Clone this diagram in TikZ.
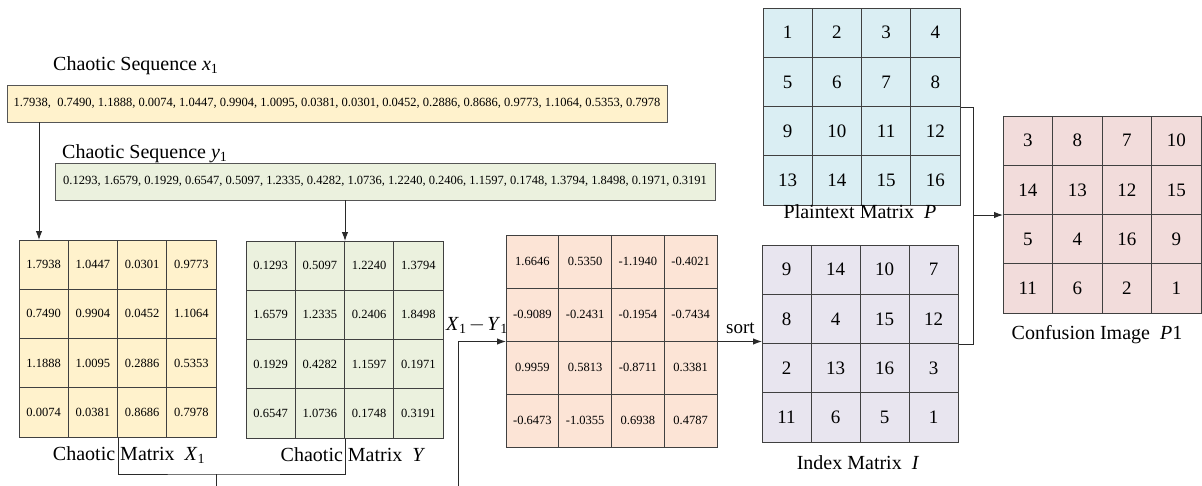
\documentclass[tikz,border=0pt]{standalone}
\usepackage{fontspec}
\setmainfont{Liberation Serif}
\usetikzlibrary{arrows.meta,calc}
\definecolor{cyel}{HTML}{FFF2CC}
\definecolor{cgrn}{HTML}{EBF1DE}
\definecolor{corg}{HTML}{FCE4D6}
\definecolor{cblu}{HTML}{DAEEF3}
\definecolor{clav}{HTML}{E8E5EF}
\definecolor{cpnk}{HTML}{F2DCDB}
\definecolor{bc}{HTML}{404040}
\definecolor{sbc}{HTML}{555555}
\definecolor{lc}{HTML}{2A2A2A}
\newcommand\lblfont{\fontsize{20}{24}\selectfont}
\newcommand\numfont{\fontsize{12.5}{15}\selectfont}
\newcommand\intfont{\fontsize{19}{22}\selectfont}
\newcommand\drawmat[8]{%
  \node[mat, fill=#6, minimum width={4*#4pt}, minimum height={4*#5pt}, anchor=north west] (#1) at (#2,#3) {};
  \foreach \e [count=\k from 0] in {#8}{
    \pgfmathtruncatemacro\rr{floor(\k/4)}
    \pgfmathtruncatemacro\cc{mod(\k,4)}
    \node[font=#7, inner sep=0pt] (#1-\k) at ({#2+(\cc+0.5)*#4},{#3+(\rr+0.5)*#5}) {\e};
  }
  \foreach \i in {1,2,3}{
    \draw[gridline] ({#2+\i*#4},#3) -- ({#2+\i*#4},{#3+4*#5});
    \draw[gridline] (#2,{#3+\i*#5}) -- ({#2+4*#4},{#3+\i*#5});
  }
}
\tikzset{
  mat/.style={draw=bc, line width=1pt, inner sep=0pt},
  gridline/.style={draw=bc, line width=0.9pt},
  seqbox/.style={draw=sbc, line width=0.9pt, minimum width=660pt, minimum height=37pt, inner sep=0pt, font=\numfont},
  lbl/.style={font=\lblfont, inner sep=0pt},
  conn/.style={draw=lc, line width=1pt},
  arr/.style={conn, -{Latex[length=9pt,width=6.5pt]}},
}
\begin{document}
\begin{tikzpicture}[x=1pt,y=-1pt]
\useasboundingbox (0,0) rectangle (1202,485);

% sequences
\node[lbl, anchor=base west] (lx) at (53,70) {Chaotic Sequence \textit{x}\textsubscript{1}};
\node[seqbox, fill=cyel] (seqx) at (337,103.5) {1.7938,\ \ 0.7490, 1.1888, 0.0074, 1.0447, 0.9904, 1.0095, 0.0381, 0.0301, 0.0452, 0.2886, 0.8686, 0.9773, 1.1064, 0.5353, 0.7978};
\node[lbl, anchor=base west] (ly) at (62,158) {Chaotic Sequence \textit{y}\textsubscript{1}};
\node[seqbox, fill=cgrn] (seqy) at (385,181.5) {0.1293, 1.6579, 0.1929, 0.6547, 0.5097, 1.2335, 0.4282, 1.0736, 1.2240, 0.2406, 1.1597, 0.1748, 1.3794, 1.8498, 0.1971, 0.3191};

% matrices
\drawmat{X1}{19}{240}{49.25}{49.25}{cyel}{\numfont}{1.7938,1.0447,0.0301,0.9773,0.7490,0.9904,0.0452,1.1064,1.1888,1.0095,0.2886,0.5353,0.0074,0.0381,0.8686,0.7978}
\drawmat{Y}{246}{241}{49.25}{49.25}{cgrn}{\numfont}{0.1293,0.5097,1.2240,1.3794,1.6579,1.2335,0.2406,1.8498,0.1929,0.4282,1.1597,0.1971,0.6547,1.0736,0.1748,0.3191}
\drawmat{D}{506}{235}{52.75}{53}{corg}{\numfont}{1.6646,0.5350,-1.1940,-0.4021,-0.9089,-0.2431,-0.1954,-0.7434,0.9959,0.5813,-0.8711,0.3381,-0.6473,-1.0355,0.6938,0.4787}
\drawmat{P}{763}{8}{49.25}{49.25}{cblu}{\intfont}{1,2,3,4,5,6,7,8,9,10,11,12,13,14,15,16}
\drawmat{I}{762}{245}{49}{49.25}{clav}{\intfont}{9,14,10,7,8,4,15,12,2,13,16,3,11,6,5,1}
\drawmat{C}{1003}{116}{49.5}{49.25}{cpnk}{\intfont}{3,8,7,10,14,13,12,15,5,4,16,9,11,6,2,1}

% labels
\node[lbl] (lX1) at (129,455) {Chaotic Matrix\ \ \textit{X}\textsubscript{1}};
\node[lbl] (lY) at (353,455) {Chaotic Matrix\ \ \textit{Y}};
\node[lbl] (lP) at (860,212) {Plaintext Matrix\ \ \textit{P}};
\node[lbl] (lI) at (858,463) {Index Matrix\ \ \textit{I}};
\node[lbl] (lC) at (1097,335) {Confusion Image\ \ \textit{P}1};
\node[lbl, anchor=base west] (ldiff) at (446,330) {\textit{X}\textsubscript{1}\hspace{0.12em}$-$\hspace{0.12em}\textit{Y}\textsubscript{1}};
\node[lbl, font=\intfont, anchor=base west] (lsort) at (726,333) {sort};

% connectors
\coordinate (ax) at ($(X1.north west)+(20,0)$);
\draw[arr] (seqx.south -| ax) -- (ax);
\draw[arr] (seqy.south -| Y.north) -- (Y.north);
\coordinate (jn) at (216,474);
\coordinate (bt) at (458,500);
\begin{scope}
\clip (0,0) rectangle (1202,485);
\draw[conn] (X1.south) |- (jn) -| (Y.south);
\draw[arr] (jn) |- (bt) |- (D.west);
\end{scope}
\draw[arr] (D.east) -- (D.east -| I.west);
\coordinate (bx) at (973,0);
\draw[conn] (P.east) -| (bx |- I.east) -- (I.east);
\draw[arr] (C.west -| bx) -- (C.west);
\end{tikzpicture}
\end{document}
